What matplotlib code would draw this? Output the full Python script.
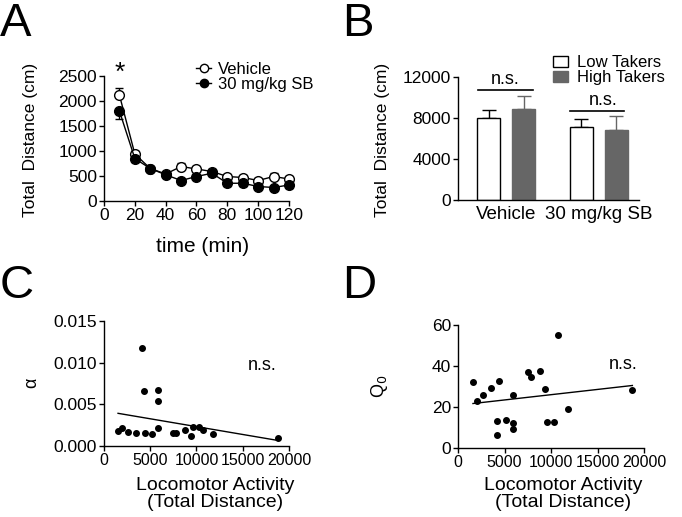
import matplotlib
matplotlib.use("Agg")
import matplotlib.pyplot as plt
from matplotlib.lines import Line2D
import numpy as np

plt.rcParams['font.family'] = ['Liberation Sans', 'DejaVu Sans']
plt.rcParams['font.size'] = 12
plt.rcParams['axes.linewidth'] = 1.0
plt.rcParams['xtick.major.width'] = 1.0
plt.rcParams['ytick.major.width'] = 1.0
plt.rcParams['xtick.major.size'] = 3.5
plt.rcParams['ytick.major.size'] = 3.5
plt.rcParams['xtick.labelsize'] = 12
plt.rcParams['ytick.labelsize'] = 12.5

# ---- Panel A data ----
time_min = [10, 20, 30, 40, 50, 60, 70, 80, 90, 100, 110, 120]
vehicle_mean = [2120, 940, 650, 540, 690, 640, 590, 490, 470, 410, 490, 440]
vehicle_err = [150, 60, 50, 50, 80, 60, 60, 50, 50, 50, 70, 70]
sb_mean = [1800, 850, 650, 525, 410, 490, 555, 355, 355, 290, 270, 320]
sb_err = [150, 70, 50, 50, 50, 50, 60, 50, 50, 40, 40, 50]

# ---- Panel B data ----
groups = ["Vehicle", "30 mg/kg SB"]
low_mean = [8000, 7090]
low_err = [800, 850]
high_mean = [8910, 6860]
high_err = [1270, 1370]

# ---- Panel C / D data ----
loco_c = [1520, 1990, 2600, 3510, 4120, 4300, 4410, 5210, 5820, 5820, 5820,
          7490, 7780, 8750, 9370, 9580, 10310, 10740, 11750, 18810]
alpha = [0.0018, 0.0022, 0.00164, 0.00152, 0.01172, 0.00656, 0.0016, 0.00148,
         0.00668, 0.0054, 0.00212, 0.00152, 0.0016, 0.00188, 0.0012, 0.00228,
         0.00232, 0.00188, 0.00144, 0.0010]
loco_d = [1610, 2080, 2690, 3550, 4160, 4230, 4440, 5200, 5910, 5910, 5880,
          7560, 7850, 8780, 9390, 9610, 10320, 10720, 11790, 18750]
q0 = [32.4, 23.0, 25.9, 29.4, 13.0, 6.2, 32.9, 13.5, 12.2, 9.2, 25.9,
      37.3, 34.7, 37.6, 29.0, 12.5, 12.5, 55.0, 19.1, 28.2]

W, H = 682, 517
fig = plt.figure(figsize=(W / 100, H / 100), dpi=100)


def ax_px(l, t, r, b):
    return fig.add_axes([l / W, 1 - b / H, (r - l) / W, (b - t) / H])


def style(ax):
    ax.spines['top'].set_visible(False)
    ax.spines['right'].set_visible(False)
    ax.tick_params(direction='out', pad=1.5)


# ---------- Panel A ----------
axA = ax_px(104, 76, 289, 201)
style(axA)
eA1 = axA.errorbar(time_min, vehicle_mean,
                   yerr=[np.zeros(len(vehicle_err)), vehicle_err],
                   color='black', marker='o', mfc='white', mec='black', ms=7,
                   lw=1.0, capsize=3, elinewidth=1.0, zorder=3)
eA2 = axA.errorbar(time_min, sb_mean,
                   yerr=[sb_err, np.zeros(len(sb_err))],
                   color='black', marker='o', mfc='black', mec='black', ms=7,
                   lw=1.0, capsize=3, elinewidth=1.0, zorder=4)
for e in (eA1, eA2):
    for art in e.get_children():
        art.set_clip_on(False)
axA.set_xlim(0, 120)
axA.set_ylim(0, 2500)
axA.set_xticks([0, 20, 40, 60, 80, 100, 120])
axA.set_yticks([0, 500, 1000, 1500, 2000, 2500])
axA.tick_params(axis='x', labelsize=12.5)
axA.text(10, 2330, '*', ha='center', va='bottom', fontsize=19)
fig.text(203 / W, 1 - 246 / H, 'time (min)', ha='center', va='center',
         fontsize=15)
fig.text(31 / W, 1 - 140 / H, 'Total  Distance (cm)', rotation=90,
         ha='center', va='center', fontsize=12.5)
hA = [Line2D([], [], color='black', marker='o', mfc='white', mec='black',
             ms=6, lw=1.0),
      Line2D([], [], color='black', marker='o', mfc='black', mec='black',
             ms=6, lw=1.0)]
axA.legend(hA, ['Vehicle', '30 mg/kg SB'], loc='upper left',
           bbox_to_anchor=(188 / W, 1 - 54 / H),
           bbox_transform=fig.transFigure, frameon=False, handlelength=0.9,
           handletextpad=0.4, labelspacing=0.0, borderpad=0, fontsize=12)

# ---------- Panel B ----------
axB = ax_px(458, 77, 639, 200)
style(axB)
centers = np.array([2.09, 6.11])
off = 0.76
bw = 1.0
axB.bar(centers - off, low_mean, bw, color='white', edgecolor='black',
        lw=1.0, label='Low Takers', zorder=2)
axB.bar(centers + off, high_mean, bw, color='#666666', edgecolor='#666666',
        lw=1.0, label='High Takers', zorder=2)
axB.errorbar(centers - off, low_mean, yerr=[[0, 0], low_err], fmt='none',
             ecolor='black', capsize=5, elinewidth=1.0, zorder=1)
axB.errorbar(centers + off, high_mean, yerr=[[0, 0], high_err], fmt='none',
             ecolor='#666666', capsize=5, elinewidth=1.0, zorder=1)
axB.set_xlim(0, 7.87)
axB.set_ylim(0, 12000)
axB.set_yticks([0, 4000, 8000, 12000])
axB.set_xticks(centers)
axB.set_xticklabels(groups, fontsize=13.5)
axB.tick_params(axis='x', length=0, pad=4)
axB.plot([0.87, 3.26], [10700, 10700], color='black', lw=1.2, clip_on=False)
axB.text(2.04, 10900, 'n.s.', ha='center', va='bottom', fontsize=13)
axB.plot([4.87, 7.2], [8715, 8715], color='black', lw=1.2, clip_on=False)
axB.text(6.3, 8900, 'n.s.', ha='center', va='bottom', fontsize=13)
fig.text(383 / W, 1 - 140 / H, 'Total  Distance (cm)', rotation=90,
         ha='center', va='center', fontsize=12.5)
axB.legend(loc='upper left', bbox_to_anchor=(545 / W, 1 - 47 / H),
           bbox_transform=fig.transFigure, frameon=False, handlelength=0.9,
           handleheight=0.7, handletextpad=0.5, labelspacing=0.0,
           borderpad=0, fontsize=12)

# ---------- Panel C ----------
axC = ax_px(104, 321, 289, 446)
style(axC)
axC.scatter(loco_c, alpha, s=16, color='black', zorder=3, clip_on=False)
pc = np.polyfit(loco_c, alpha, 1)
xc = np.array([min(loco_c), max(loco_c)])
axC.plot(xc, np.polyval(pc, xc), color='black', lw=1.0)
axC.set_xlim(0, 20000)
axC.set_ylim(0, 0.015)
axC.set_xticks([0, 5000, 10000, 15000, 20000])
axC.tick_params(axis='x', labelsize=11.5)
axC.set_yticks([0, 0.005, 0.010, 0.015])
axC.set_yticklabels(['0.000', '0.005', '0.010', '0.015'])
axC.text(17080, 0.0097, 'n.s.', ha='center', va='center', fontsize=13)
fig.text(32 / W, 1 - 383 / H, 'α', rotation=90, ha='center', va='center',
         fontsize=13)
fig.text(215 / W, 1 - 494 / H, 'Locomotor Activity\n(Total Distance)',
         ha='center', va='center', fontsize=14, linespacing=1.05)

# ---------- Panel D ----------
axD = ax_px(458, 325, 644, 448)
style(axD)
axD.scatter(loco_d, q0, s=16, color='black', zorder=3, clip_on=False)
pd_ = np.polyfit(loco_d, q0, 1)
xd = np.array([min(loco_d), max(loco_d)])
axD.plot(xd, np.polyval(pd_, xd), color='black', lw=1.0)
axD.set_xlim(0, 20000)
axD.set_ylim(0, 60)
axD.set_xticks([0, 5000, 10000, 15000, 20000])
axD.tick_params(axis='x', labelsize=11.5)
axD.set_yticks([0, 20, 40, 60])
axD.text(17740, 40.5, 'n.s.', ha='center', va='center', fontsize=13)
fig.text(380 / W, 1 - 386 / H, 'Q$_0$', rotation=90, ha='center',
         va='center', fontsize=13)
fig.text(563 / W, 1 - 494 / H, 'Locomotor Activity\n(Total Distance)',
         ha='center', va='center', fontsize=14, linespacing=1.05)

# ---------- Panel letters ----------
for letter, x, y in [('A', 0, 36), ('B', 342, 36), ('C', 0, 298), ('D', 342, 298)]:
    fig.text(x / W, 1 - y / H, letter, ha='left', va='baseline', fontsize=34)

fig.savefig('out.png', dpi=100)
